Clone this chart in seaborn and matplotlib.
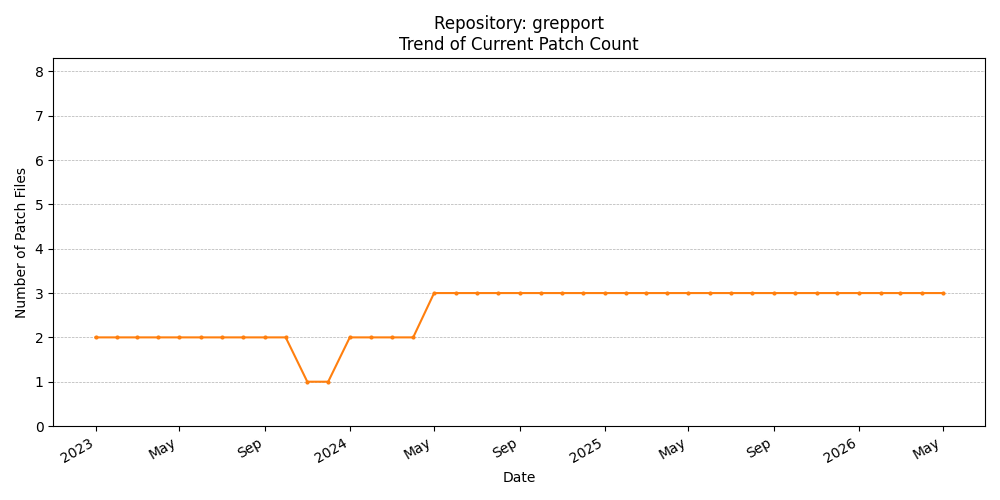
import matplotlib
matplotlib.use("Agg")
import matplotlib.pyplot as plt
import matplotlib.dates as mdates
import pandas as pd
import seaborn as sns

# monthly snapshots, Jan 2023 .. May 2026
dates = pd.date_range("2023-01-01", "2026-05-01", freq="MS")
patch_counts = ([2] * 10          # 2023 Jan-Oct
                + [1, 1]          # 2023 Nov-Dec
                + [2] * 4         # 2024 Jan-Apr
                + [3] * 25)       # 2024 May .. 2026 May

df = pd.DataFrame({"Date": dates, "Patches": patch_counts})

fig, ax = plt.subplots(figsize=(10, 5), dpi=100)
sns.lineplot(data=df, x="Date", y="Patches", ax=ax, color="tab:orange",
             marker="o", markersize=3, markeredgewidth=0)

ax.set_title("Repository: grepport\nTrend of Current Patch Count")
ax.set_xlabel("Date")
ax.set_ylabel("Number of Patch Files")
ax.set_ylim(0, 8.3)
ax.grid(axis="y", linestyle="--", linewidth=0.5)

locator = mdates.AutoDateLocator()
ax.xaxis.set_major_locator(locator)
ax.xaxis.set_major_formatter(mdates.ConciseDateFormatter(locator))
fig.autofmt_xdate()

plt.tight_layout()
plt.savefig("out.png")
